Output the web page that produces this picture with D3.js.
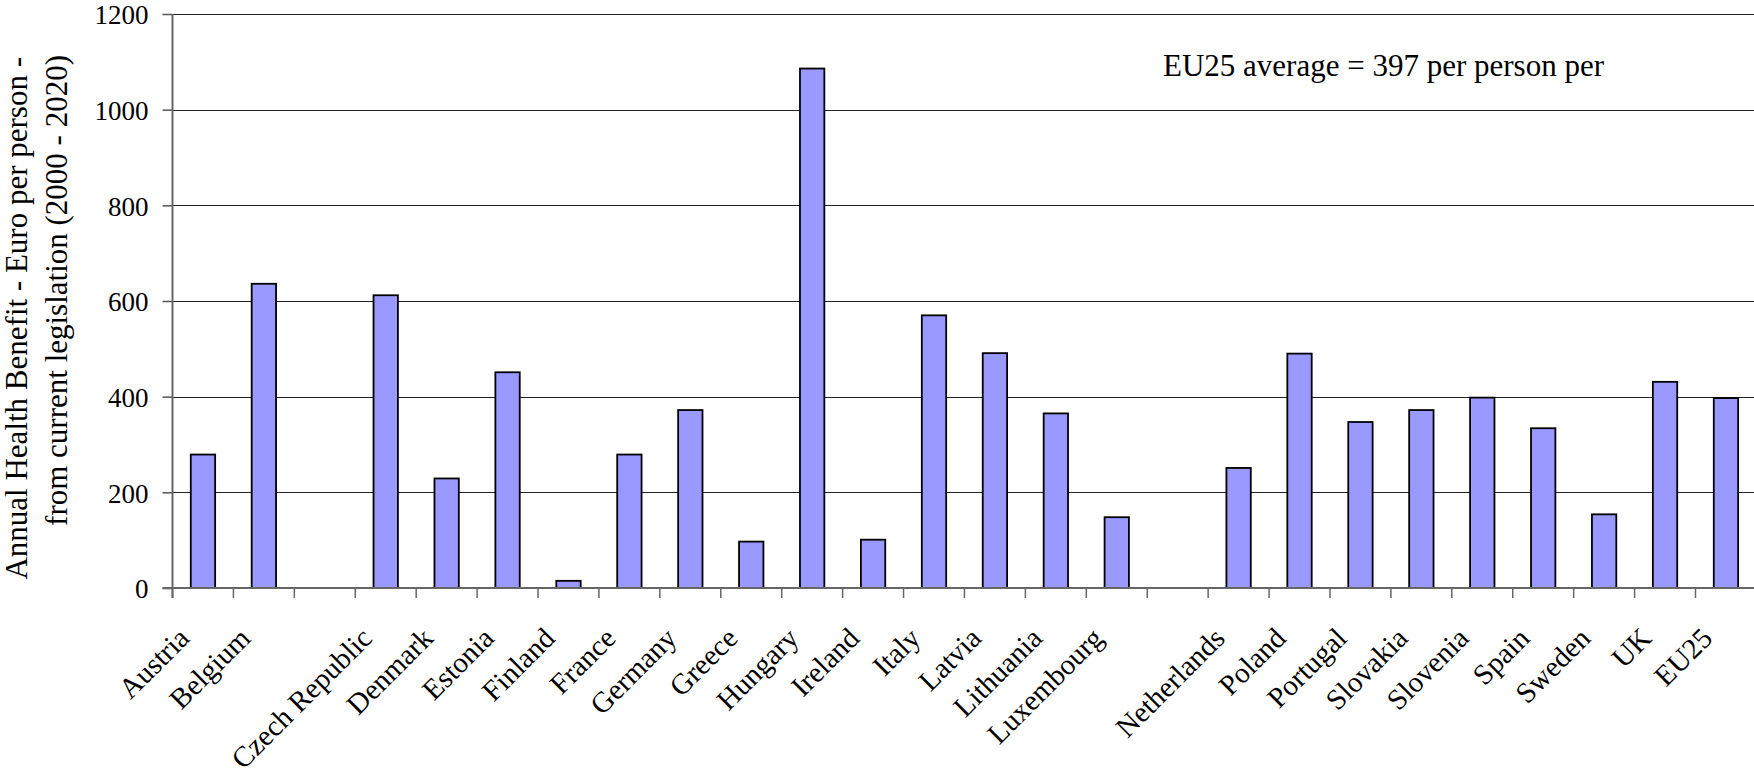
<!DOCTYPE html>
<html>
<head>
<meta charset="utf-8">
<script src="https://cdn.jsdelivr.net/npm/d3@7/dist/d3.min.js"></script>
<style>
  html, body { margin: 0; padding: 0; background: #fff; overflow: hidden; }
  svg { display: block; font-family: "Liberation Serif", "Times New Roman", serif; }
</style>
</head>
<body>
<svg id="chart" width="1754" height="778"></svg>
<script>
const categories = ["Austria","Belgium","Cyprus","Czech Republic","Denmark","Estonia","Finland","France","Germany","Greece","Hungary","Ireland","Italy","Latvia","Lithuania","Luxembourg","Malta","Netherlands","Poland","Portugal","Slovakia","Slovenia","Spain","Sweden","UK","EU25"];
const values = [279, 636, null, 612, 229, 451, 15, 279, 372, 97, 1086, 101, 570, 491, 365, 148, null, 251, 490, 347, 372, 398, 334, 154, 431, 397];
const tickLabels = ["Austria","Belgium","","Czech Republic","Denmark","Estonia","Finland","France","Germany","Greece","Hungary","Ireland","Italy","Latvia","Lithuania","Luxembourg","","Netherlands","Poland","Portugal","Slovakia","Slovenia","Spain","Sweden","UK","EU25"];
const yTicks = [0, 200, 400, 600, 800, 1000, 1200];
const yTitleLines = ["Annual Health Benefit - Euro per person -", "from current legislation (2000 - 2020)"];
const annotation = "EU25 average = 397 per person per";

(function () {
const svg = d3.select("#chart");
const plotLeft = 172.5, step = 60.92, plotTop = 14, plotBottom = 588;
const plotRight = plotLeft + step * categories.length;

const x = d3.scaleBand().domain(categories).range([plotLeft, plotRight]).paddingInner(0.6).paddingOuter(0.3);
const y = d3.scaleLinear().domain([0, 1200]).range([plotBottom, plotTop]);

// gridlines
svg.append("g").selectAll("line").data(yTicks.filter(d => d > 0)).join("line")
  .attr("x1", plotLeft).attr("x2", plotRight)
  .attr("y1", d => Math.round(y(d)) + 0.5).attr("y2", d => Math.round(y(d)) + 0.5)
  .attr("stroke", "#222").attr("stroke-width", 1.2);

// y axis
const yAxis = svg.append("g").attr("transform", `translate(${plotLeft},0)`)
  .call(d3.axisLeft(y).tickValues(yTicks).tickSize(10).tickPadding(14).tickFormat(d3.format("d")));
yAxis.select(".domain").remove();
yAxis.selectAll(".tick line").attr("stroke", "#555").attr("stroke-width", 1.5);
yAxis.selectAll(".tick text").attr("font-family", "Liberation Serif, Times New Roman, serif")
  .attr("font-size", 27).attr("fill", "#000").attr("dy", "0.36em");

// bars
svg.append("g").selectAll("rect").data(categories.map((c, i) => ({c, v: values[i]})).filter(d => d.v != null)).join("rect")
  .attr("x", d => x(d.c))
  .attr("width", x.bandwidth())
  .attr("y", d => y(d.v))
  .attr("height", d => y(0) - y(d.v))
  .attr("fill", "#9999ff").attr("stroke", "#000").attr("stroke-width", 1.8);

// axis lines
svg.append("line").attr("x1", plotLeft).attr("x2", plotLeft).attr("y1", plotTop).attr("y2", plotBottom + 10)
  .attr("stroke", "#666").attr("stroke-width", 2);
svg.append("line").attr("x1", plotLeft - 10).attr("x2", plotRight).attr("y1", plotBottom).attr("y2", plotBottom)
  .attr("stroke", "#666").attr("stroke-width", 2);

// category boundary ticks
const bounds = categories.map(c => x(c) + x.bandwidth() / 2 - x.step() / 2).concat([plotRight]);
svg.append("g").selectAll("line").data(bounds).join("line")
  .attr("x1", d => d).attr("x2", d => d).attr("y1", plotBottom).attr("y2", plotBottom + 10)
  .attr("stroke", "#666").attr("stroke-width", 1.5);

// category labels
svg.append("g").selectAll("text").data(categories.map((c, i) => ({c, t: tickLabels[i]}))).join("text")
  .attr("transform", d => `translate(${x(d.c) + x.bandwidth() / 2 - 12},640) rotate(-45)`)
  .attr("text-anchor", "end").attr("font-size", 29).attr("fill", "#000")
  .text(d => d.t);

// y title
svg.append("text").attr("transform", "translate(27,57) rotate(-90)")
  .attr("text-anchor", "end").attr("font-size", 31).attr("fill", "#000").text(yTitleLines[0]);
svg.append("text").attr("transform", "translate(67,55) rotate(-90)")
  .attr("text-anchor", "end").attr("font-size", 31).attr("fill", "#000").text(yTitleLines[1]);

// annotation
svg.append("text").attr("x", 1163).attr("y", 76).attr("font-size", 31).attr("fill", "#000").text(annotation);
})();
</script>
</body>
</html>
